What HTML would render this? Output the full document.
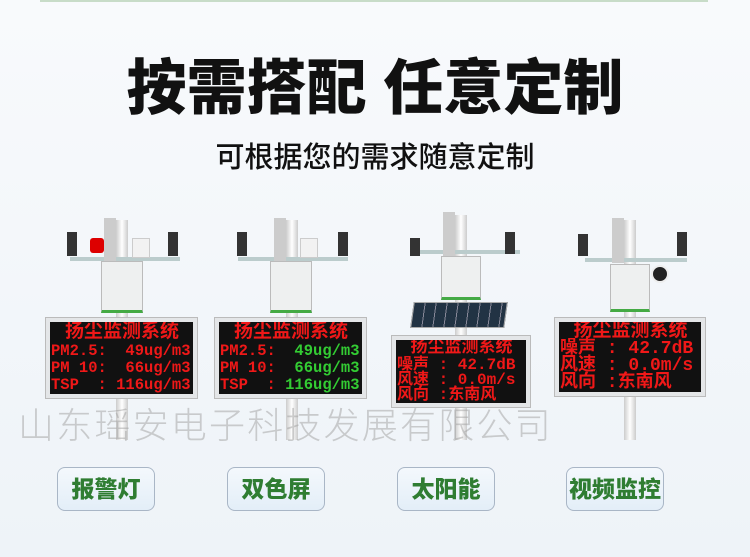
<!DOCTYPE html>
<html><head><meta charset="utf-8"><style>
body{margin:0;width:750px;height:557px;overflow:hidden;background:linear-gradient(#f8fafc,#eef3f8);font-family:"Liberation Sans","Noto Sans CJK SC",sans-serif;position:relative}
.a{position:absolute}
.t{left:0;width:750px;text-align:center;font-weight:900;color:#111}
.disp{position:absolute;background:#111;border:4px solid #e4e6e8;box-shadow:0 0 0 1px #bbb;font-family:"Liberation Mono","Noto Sans CJK SC",monospace;color:#f01818;font-weight:bold;line-height:17px;padding-left:1px;box-sizing:border-box;overflow:hidden}
.disp div{white-space:pre}
.btn{position:absolute;top:467px;width:96px;height:42px;border:1.5px solid #a9b6c6;border-radius:8px;background:linear-gradient(#f4f8fc,#e3eef8);color:#2f7d32;font-weight:900;font-size:23px;text-align:center;line-height:42px}
.pole{position:absolute;background:linear-gradient(90deg,#ccc,#fff,#ccc)}
.box{position:absolute;background:#eef0f0;border:1px solid #bbb;border-bottom:3px solid #4a4}
.arm{position:absolute;height:4px;background:#bcc}
</style></head><body>
<div class="a" style="left:40px;top:0;width:668px;height:2px;background:#c8dcc8"></div>
<div class="a t" style="top:54px;font-size:60px;line-height:70px">按需搭配 任意定制</div>
<div class="a t" style="top:140px;font-size:29px;font-weight:500;line-height:36px">可根据您的需求随意定制</div>

<!-- unit 1 -->
<div class="pole" style="left:116px;top:220px;width:12px;height:220px"></div>
<div class="arm" style="left:70px;top:257px;width:110px"></div>
<div class="a" style="left:104px;top:218px;width:12px;height:45px;background:#ccc"></div>
<div class="a" style="left:90px;top:238px;width:14px;height:15px;background:#d00;border-radius:3px"></div>
<div class="a" style="left:67px;top:232px;width:10px;height:24px;background:#333"></div>
<div class="a" style="left:168px;top:232px;width:10px;height:24px;background:#333"></div>
<div class="a" style="left:132px;top:238px;width:16px;height:18px;background:#f2f2f2;border:1px solid #ccc"></div>
<div class="box" style="left:101px;top:261px;width:40px;height:48px"></div>
<div class="disp" style="left:46px;top:318px;width:151px;height:80px;font-size:15.5px">
<div style="text-align:center;font-size:19px;line-height:21px">扬尘监测系统</div><div>PM2.5:  49ug/m3</div><div>PM 10:  66ug/m3</div><div>TSP  : 116ug/m3</div></div>

<!-- unit 2 -->
<div class="pole" style="left:286px;top:220px;width:12px;height:220px"></div>
<div class="arm" style="left:238px;top:257px;width:110px"></div>
<div class="a" style="left:274px;top:218px;width:12px;height:45px;background:#ccc"></div>
<div class="a" style="left:237px;top:232px;width:10px;height:24px;background:#333"></div>
<div class="a" style="left:338px;top:232px;width:10px;height:24px;background:#333"></div>
<div class="a" style="left:300px;top:238px;width:16px;height:18px;background:#f2f2f2;border:1px solid #ccc"></div>
<div class="box" style="left:270px;top:261px;width:40px;height:48px"></div>
<div class="disp" style="left:215px;top:318px;width:151px;height:80px;font-size:15.5px">
<div style="text-align:center;font-size:19px;line-height:21px">扬尘监测系统</div><div>PM2.5:  <span style="color:#3c3">49ug/m3</span></div><div>PM 10:  <span style="color:#3c3">66ug/m3</span></div><div>TSP  : <span style="color:#3c3">116ug/m3</span></div></div>

<!-- unit 3 -->
<div class="pole" style="left:455px;top:215px;width:12px;height:225px"></div>
<div class="arm" style="left:410px;top:250px;width:110px"></div>
<div class="a" style="left:443px;top:212px;width:12px;height:45px;background:#ccc"></div>
<div class="a" style="left:410px;top:238px;width:10px;height:18px;background:#333"></div>
<div class="a" style="left:505px;top:232px;width:10px;height:22px;background:#333"></div>
<div class="box" style="left:441px;top:256px;width:38px;height:40px"></div>
<div class="a" style="left:412px;top:302px;width:92px;height:24px;background:repeating-linear-gradient(90deg,#234 0 10px,#889 10px 11px),#234;transform:skewX(-8deg);border:1px solid #aaa"></div>
<div class="disp" style="left:392px;top:336px;width:138px;height:71px;font-size:16px;line-height:15px">
<div style="text-align:center;font-size:17px;line-height:18px">扬尘监测系统</div><div>噪声 : 42.7dB</div><div>风速 : 0.0m/s</div><div>风向 :东南风</div></div>

<!-- unit 4 -->
<div class="pole" style="left:624px;top:220px;width:12px;height:220px"></div>
<div class="arm" style="left:585px;top:258px;width:102px"></div>
<div class="a" style="left:612px;top:218px;width:12px;height:45px;background:#ccc"></div>
<div class="a" style="left:578px;top:234px;width:10px;height:22px;background:#333"></div>
<div class="a" style="left:677px;top:232px;width:10px;height:24px;background:#333"></div>
<div class="a" style="left:651px;top:265px;width:14px;height:14px;background:#222;border-radius:50%;border:2px solid #eee"></div>
<div class="box" style="left:610px;top:264px;width:38px;height:44px"></div>
<div class="disp" style="left:555px;top:318px;width:150px;height:78px;font-size:18px;line-height:17px">
<div style="text-align:center;font-size:19px;line-height:19px">扬尘监测系统</div><div>噪声 : 42.7dB</div><div>风速 : 0.0m/s</div><div>风向 :东南风</div></div>

<div class="a" style="left:18px;top:397px;font-size:36px;color:rgba(160,160,160,0.5);letter-spacing:2.2px;white-space:nowrap;font-family:'Noto Sans CJK SC',sans-serif;font-weight:300">山东瑶安电子科技发展有限公司</div>

<div class="btn" style="left:57px">报警灯</div>
<div class="btn" style="left:227px">双色屏</div>
<div class="btn" style="left:397px">太阳能</div>
<div class="btn" style="left:566px">视频监控</div>
</body></html>
